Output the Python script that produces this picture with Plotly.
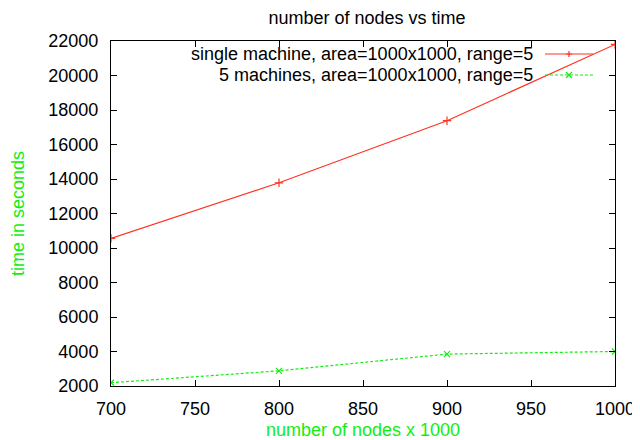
import plotly.graph_objects as go

nodes = [700, 800, 900, 1000]
single_machine = [10560, 13780, 17380, 21800]
five_machines = [2190, 2880, 3850, 4000]
y_ticks = [2000, 4000, 6000, 8000, 10000, 12000, 14000, 16000, 18000, 20000, 22000]
y_tick_text = ["2000", "4000", "6000", "8000", "10000", "12000", "14000", "16000", "18000", "20000", "22000"]
x_ticks = [700, 750, 800, 850, 900, 950, 1000]
labels = ["single machine, area=1000x1000, range=5", "5 machines, area=1000x1000, range=5"]

RED = "#ff3322"
GREEN = "#11ee11"
FONT = "Liberation Sans, Arial, Helvetica, sans-serif"
FS = 18

# the page body has an 8px margin, so the figure is sized to fit the 640x440 window
OFF = 8
W, H = 640 - OFF, 440 - OFF
L, T, PW, PH = 111 - OFF, 41 - OFF, 504, 345

fig = go.Figure()
fig.add_trace(go.Scatter(x=nodes, y=single_machine, mode="lines+markers", name=labels[0],
                         line=dict(color=RED, width=1.2),
                         marker=dict(symbol="cross-thin", size=6, line=dict(color=RED, width=1.2))))
fig.add_trace(go.Scatter(x=nodes, y=five_machines, mode="lines+markers", name=labels[1],
                         line=dict(color=GREEN, width=1.2, dash="3px,2px"),
                         marker=dict(symbol="x-thin", size=6, line=dict(color=GREEN, width=1.2))))

fig.update_layout(
    width=W, height=H,
    margin=dict(l=L, r=W - L - PW, t=T, b=H - T - PH),
    paper_bgcolor="white", plot_bgcolor="white",
    showlegend=False,
    font=dict(family=FONT, size=FS, color="black"),
    title=dict(text="number of nodes vs time", x=(367 - 111) / PW, xref="paper", xanchor="center",
               y=1 - (18 - OFF) / H, yref="container", yanchor="middle", font=dict(size=FS, color="black"),
               automargin=False, pad=dict(t=0)),
)

fig.update_xaxes(range=[700, 1000], tickvals=x_ticks, ticks="inside", ticklen=6, tickcolor="black",
                 showline=True, linecolor="black", linewidth=1, mirror="allticks", automargin=False,
                 showgrid=False, zeroline=False, ticklabelstandoff=6,
                 title=dict(text="number of nodes x 1000", font=dict(color=GREEN, size=FS), standoff=8))
fig.update_yaxes(range=[2000, 22000], tickvals=y_ticks, ticktext=y_tick_text, ticks="inside", ticklen=6,
                 tickcolor="black", automargin=False,
                 showline=True, linecolor="black", linewidth=1, mirror="allticks",
                 showgrid=False, zeroline=False, ticklabelstandoff=8,
                 title=dict(text="time in seconds", font=dict(color=GREEN, size=FS), standoff=20))

# gnuplot-style legend: right-aligned text followed by a line sample
rows = [(labels[0], RED, "solid", "cross-thin", 54), (labels[1], GREEN, "3px,2px", "x-thin", 75)]
for text, col, dash, sym, ypx in rows:
    yp = (386 - ypx) / PH
    fig.add_annotation(text=text, xref="paper", yref="paper", x=(534 - 111) / PW, y=yp,
                       xanchor="right", yanchor="middle", showarrow=False, borderpad=0,
                       font=dict(size=FS, color="black"))
    fig.add_shape(type="line", xref="paper", yref="paper",
                  x0=(545 - 111) / PW, x1=(593 - 111) / PW, y0=yp, y1=yp,
                  line=dict(color=col, width=1.2, dash=dash))
    a, c, m = (566 - 111) / PW, (572 - 111) / PW, (569 - 111) / PW
    d, e = yp - 3 / PH, yp + 3 / PH
    if sym == "cross-thin":
        path = f"M {a},{yp} L {c},{yp} M {m},{d} L {m},{e}"
    else:
        path = f"M {a},{d} L {c},{e} M {a},{e} L {c},{d}"
    fig.add_shape(type="path", xref="paper", yref="paper", path=path, line=dict(color=col, width=1.2))

fig.write_html("out.html")
